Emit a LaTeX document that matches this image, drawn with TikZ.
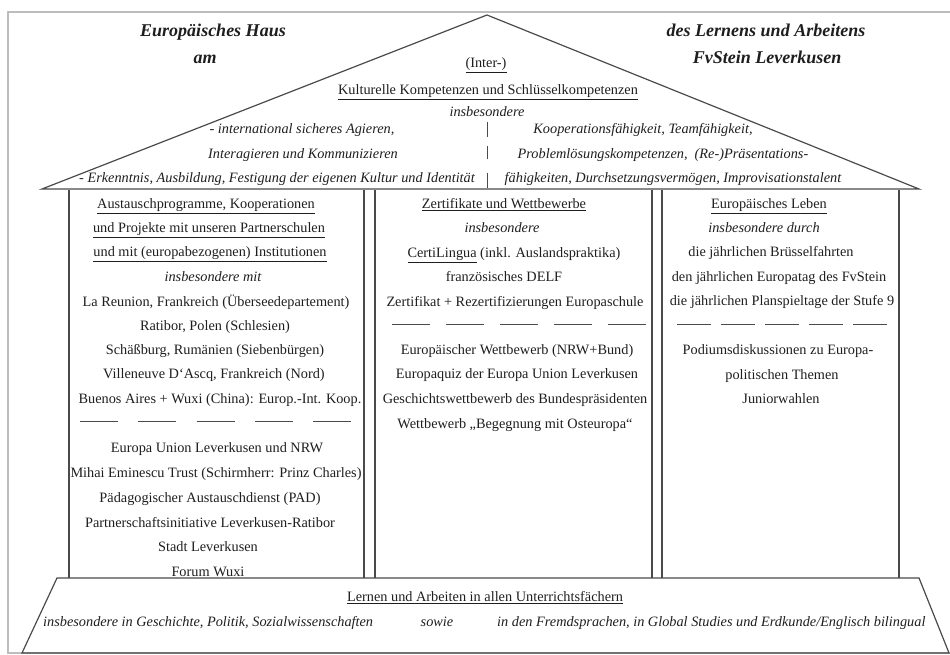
\documentclass[tikz,border=0pt]{standalone}
\usepackage{fontspec}
\setmainfont{Liberation Serif}
\definecolor{ink}{HTML}{1E1E1E}
\definecolor{linec}{HTML}{4A4A4A}
\definecolor{framec}{HTML}{BDBDBD}
\begin{document}
\begin{tikzpicture}[x=1pt,y=-1pt,
  txt/.style={inner sep=0pt, text height=10pt, text depth=3pt, text=ink, font=\fontsize{14.3}{17}\selectfont},
  itxt/.style={inner sep=0pt, text height=10pt, text depth=3pt, text=ink, font=\fontsize{14.3}{17}\selectfont\itshape},
  ttl/.style={inner sep=0pt, text height=12pt, text depth=4pt, text=ink, font=\fontsize{18}{21}\selectfont\bfseries\itshape},
  wall/.style={draw=linec, line width=1.2pt},
  sepline/.style={draw=linec, line width=1pt}]
\useasboundingbox (0,0) rectangle (950,655);
\begin{scope}
\clip (0,0) rectangle (950,655);
\draw[framec, line width=1.2pt] (8,12) rectangle (953,653);
\end{scope}
% roof
\coordinate (apex) at (487,15);
\coordinate (eaveL) at (42,189);
\coordinate (eaveR) at (919,189);
\draw[wall, line join=miter] (eaveL) -- (apex) -- (eaveR) -- cycle;
\draw[sepline] (487,122) -- (487,137);
\draw[sepline] (487,146) -- (487,159);
\draw[sepline] (487,173) -- (487,188);
% columns
\foreach \xx in {69,364,375,652,662,899}{
  \draw[wall] (\xx,190) -- (\xx,578);
}
% base
\coordinate (bTL) at (57,578);
\coordinate (bTR) at (919,578);
\coordinate (bBR) at (949,653);
\coordinate (bBL) at (22,653);
\draw[wall, line join=miter] (bTL) -- (bTR) -- (bBR) -- (bBL) -- cycle;
% titles
\node[ttl] (t1) at (213,33) {Europäisches Haus};
\node[ttl] (t2) at (205,60) {am};
\node[ttl] (t3) at (766,33) {des Lernens und Arbeitens};
\node[ttl] (t4) at (767,60) {FvStein Leverkusen};
% roof text
\node[txt] (r1) at (486,64) {\underline{(Inter-)}};
\node[txt] (r2) at (488,91) {\underline{Kulturelle Kompetenzen und Schlüsselkompetenzen}};
\node[itxt] (r3) at (487,113) {insbesondere};
\node[itxt] (r4) at (302,130) {- international sicheres Agieren,};
\node[itxt] (r5) at (303,155) {Interagieren und Kommunizieren};
\node[itxt] (r6) at (277,179) {- Erkenntnis, Ausbildung, Festigung der eigenen Kultur und Identität};
\node[itxt] (r7) at (643,130) {Kooperationsfähigkeit, Teamfähigkeit,};
\node[itxt] (r8) at (663,155) {Problemlösungskompetenzen,\ \ (Re-)Präsentations-};
\node[itxt] (r9) at (673,179) {fähigkeiten, Durchsetzungsvermögen, Improvisationstalent};
% left column
\node[txt] (l1) at (206,205) {\underline{Austauschprogramme, Kooperationen}};
\node[txt] (l2) at (209,229) {\underline{und Projekte mit unseren Partnerschulen}};
\node[txt] (l3) at (210,253) {\underline{und mit (europabezogenen) Institutionen}};
\node[itxt] (l4) at (213,278) {insbesondere mit};
\node[txt] (l5) at (216,303) {La Reunion, Frankreich (Überseedepartement)};
\node[txt] (l6) at (215,327) {Ratibor, Polen (Schlesien)};
\node[txt] (l7) at (215,351) {Schäßburg, Rumänien (Siebenbürgen)};
\node[txt] (l8) at (214,375) {Villeneuve D`Ascq, Frankreich (Nord)};
\node[txt] (l9) at (220,400) {Buenos Aires + Wuxi (China): Europ.-Int. Koop.};
\draw[sepline, dash pattern=on 38pt off 20.25pt] (80,421) -- (351,421);
\node[txt] (l10) at (217,449) {Europa Union Leverkusen und NRW};
\node[txt] (l11) at (216,474) {Mihai Eminescu Trust (Schirmherr: Prinz Charles)};
\node[txt] (l12) at (210,499) {Pädagogischer Austauschdienst (PAD)};
\node[txt] (l13) at (210,524) {Partnerschaftsinitiative Leverkusen-Ratibor};
\node[txt] (l14) at (208,548) {Stadt Leverkusen};
\node[txt] (l15) at (208,573) {Forum Wuxi};
% middle column
\node[txt] (m1) at (504,205) {\underline{Zertifikate und Wettbewerbe}};
\node[itxt] (m2) at (502,229) {insbesondere};
\node[txt] (m3) at (514,254) {\underline{CertiLingua} (inkl. Auslandspraktika)};
\node[txt] (m4) at (504,278) {französisches DELF};
\node[txt] (m5) at (515,303) {Zertifikat + Rezertifizierungen Europaschule};
\draw[sepline, dash pattern=on 38pt off 16pt] (392,324) -- (646,324);
\node[txt] (m6) at (517,351) {Europäischer Wettbewerb (NRW+Bund)};
\node[txt] (m7) at (517,375) {Europaquiz der Europa Union Leverkusen};
\node[txt] (m8) at (515,400) {Geschichtswettbewerb des Bundespräsidenten};
\node[txt] (m9) at (515,425) {Wettbewerb „Begegnung mit Osteuropa“};
% right column
\node[txt] (q1) at (769,205) {\underline{Europäisches Leben}};
\node[itxt] (q2) at (764,229) {insbesondere durch};
\node[txt] (q3) at (771,253) {die jährlichen Brüsselfahrten};
\node[txt] (q4) at (779,278) {den jährlichen Europatag des FvStein};
\node[txt] (q5) at (782,302) {die jährlichen Planspieltage der Stufe 9};
\draw[sepline, dash pattern=on 34pt off 10pt] (677,324) -- (887,324);
\node[txt] (q6) at (778,351) {Podiumsdiskussionen zu Europa-};
\node[txt] (q7) at (782,376) {politischen Themen};
\node[txt] (q8) at (781,400) {Juniorwahlen};
% base text
\node[txt] (b1) at (485,598) {\underline{Lernen und Arbeiten in allen Unterrichtsfächern}};
\node[itxt, anchor=west] (b2) at (43,623) {insbesondere in Geschichte, Politik, Sozialwissenschaften};
\node[itxt] (b3) at (437,623) {sowie};
\node[itxt, anchor=west] (b4) at (497,623) {in den Fremdsprachen, in Global Studies und Erdkunde/Englisch bilingual};
\end{tikzpicture}
\end{document}
